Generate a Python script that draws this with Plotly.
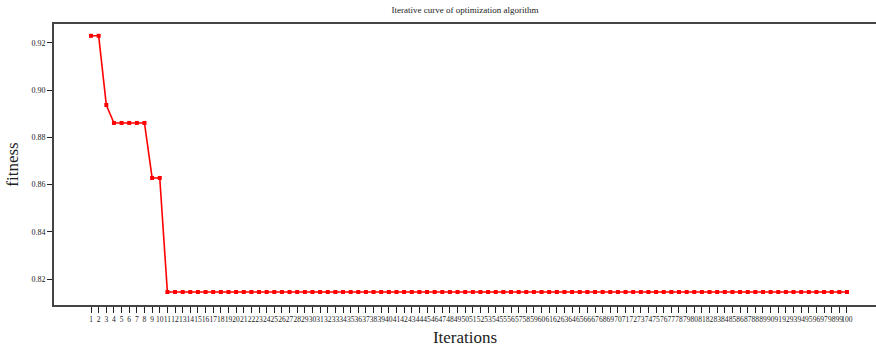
import plotly.graph_objects as go

# Best fitness value recorded at each iteration
iterations = list(range(1, 101))
fitness = ([0.923, 0.923, 0.8937] + [0.8861] * 5 + [0.8628] * 2 + [0.8145] * 90)

y_ticks = [0.82, 0.84, 0.86, 0.88, 0.90, 0.92]
y_tick_labels = ["0.82", "0.84", "0.86", "0.88", "0.90", "0.92"]

serif = "Liberation Serif, Times New Roman, serif"

fig = go.Figure(
    go.Scatter(
        x=iterations,
        y=fitness,
        mode="lines+markers",
        line=dict(color="#ff0000", width=1.6),
        marker=dict(symbol="square", size=4, color="#ff0000"),
        showlegend=False,
    )
)

fig.update_layout(
    width=876,
    height=347,
    margin=dict(l=54, r=0, t=24, b=42),
    paper_bgcolor="white",
    plot_bgcolor="white",
    title=dict(
        text="Iterative curve of optimization algorithm",
        font=dict(family=serif, size=9, color="#222"),
        x=0.5, xanchor="center", xref="paper",
        y=1 - 10 / 347, yanchor="middle", yref="container",
    ),
    font=dict(family=serif, color="#222"),
)

fig.update_xaxes(
    range=[-3.85, 103.8],
    tickmode="array",
    tickvals=iterations,
    ticktext=[str(i) for i in iterations],
    tickangle=0,
    ticks="outside",
    ticklen=6,
    tickwidth=1.2,
    tickcolor="#222",
    tickfont=dict(family=serif, size=7.5, color="#222"),
    showgrid=False,
    zeroline=False,
    showline=True,
    linecolor="#444",
    linewidth=2,
    mirror=True,
    title=dict(text="Iterations", font=dict(family=serif, size=17, color="#222"), standoff=8),
)

fig.update_yaxes(
    range=[0.809, 0.928],
    tickmode="array",
    tickvals=y_ticks,
    ticktext=y_tick_labels,
    ticks="outside",
    ticklen=5,
    tickwidth=1.2,
    tickcolor="#222",
    tickfont=dict(family=serif, size=8, color="#222"),
    showgrid=False,
    zeroline=False,
    showline=True,
    linecolor="#444",
    linewidth=2,
    mirror=False,
    title=dict(text="fitness", font=dict(family=serif, size=17, color="#222"), standoff=8),
)

fig.write_html("out.html")
